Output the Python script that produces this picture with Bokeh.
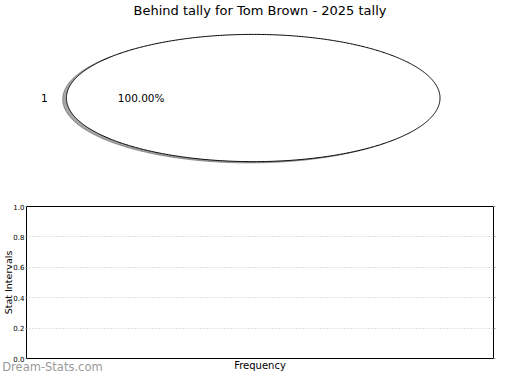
import numpy as np
from bokeh.plotting import figure
from bokeh.models import (Range1d, FixedTicker, LinearAxis,
                          NumeralTickFormatter, ColumnDataSource)
from bokeh.layouts import column
from bokeh.embed import file_html
from bokeh.resources import INLINE
from bokeh.core.properties import value

# ---------------- data ----------------
title_text = "Behind tally for Tom Brown - 2025 tally"
slice_labels = ["1"]
slice_values = [1]
y_ticks = [0.0, 0.2, 0.4, 0.6, 0.8, 1.0]
x_label = "Frequency"
y_label = "Stat Intervals"
watermark = "Dream-Stats.com"

FONT = "DejaVu Sans"
W = 504
H_TOP = 184
H_BOT = 374 - H_TOP
FRAME_L = 25
FRAME_R = 493

# pie geometry on the page (pixels): centre and radii
CX, CY, RX, RY = 252.2, 97.0, 187.2, 64.0
TITLE_H = 16

# ---------------- pie (top) ----------------
top = figure(width=W, height=H_TOP, output_backend="svg", toolbar_location=None,
             tools="",
             x_range=Range1d(-(CX - FRAME_L) / RX, (FRAME_R - CX) / RX),
             y_range=Range1d(-(H_TOP - CY) / RY, (CY - TITLE_H) / RY),
             min_border=0, min_border_left=FRAME_L, min_border_right=W - FRAME_R)
top.axis.visible = False
top.grid.visible = False
top.outline_line_color = None
top.title.text = title_text
top.title.align = "center"
top.title.text_font = FONT
top.title.text_font_size = "13px"
top.title.text_font_style = "normal"
top.title.text_color = "black"
top.title.standoff = 0
top.title.offset = 0

vals = np.array(slice_values, dtype=float)
frac = vals / vals.sum()
ends = 2 * np.pi * np.cumsum(frac)
starts = ends - 2 * np.pi * frac

shapes = []
for a0, a1, f in zip(starts, ends, frac):
    th = np.linspace(a0, a1, 721)
    xs = np.cos(th)
    ys = np.sin(th)
    if f < 1:
        xs = np.concatenate([[0.0], xs])
        ys = np.concatenate([[0.0], ys])
    shapes.append((xs, ys))

SH = 0.02
for xs, ys in shapes:
    top.patch(xs - SH, ys - SH, fill_color="#4d4d4d", fill_alpha=0.5,
              line_color="#4d4d4d", line_alpha=0.5, line_width=1)
for xs, ys in shapes:
    top.patch(xs, ys, fill_color="white", line_color="black", line_width=1)

mids = (starts + ends) / 2
lab_src = ColumnDataSource(dict(
    x=list(1.1 * np.cos(mids)), y=list(1.1 * np.sin(mids)),
    text=slice_labels,
    align=["right" if np.cos(m) < -1e-9 else ("left" if np.cos(m) > 1e-9 else "center") for m in mids],
))
top.text(x="x", y="y", text="text", source=lab_src, text_align="align",
         text_baseline="middle", text_font=value(FONT), text_font_size="10.5px",
         text_color="black")
pct_src = ColumnDataSource(dict(
    x=list(0.6 * np.cos(mids)), y=list(0.6 * np.sin(mids)),
    text=["%.2f%%" % (100 * f) for f in frac],
))
top.text(x="x", y="y", text="text", source=pct_src, text_align="center",
         text_baseline="middle", text_font=value(FONT), text_font_size="10.5px",
         text_color="black")

# ---------------- empty axes (bottom) ----------------
BOX_TOP = 206
BOX_BOTTOM = 358
bot = figure(width=W, height=H_BOT, output_backend="svg", toolbar_location=None,
             tools="", x_range=Range1d(0, 1), y_range=Range1d(0, 1),
             min_border_left=FRAME_L, min_border_right=W - FRAME_R,
             min_border_top=BOX_TOP - H_TOP, min_border_bottom=374 - BOX_BOTTOM)
bot.outline_line_color = "black"
bot.outline_line_width = 1
bot.outline_line_alpha = 1.0

# x axis: the watermark sits in the tick-label row at the far left,
# the axis label "Frequency" is pulled up into the same row
WM_CENTER_PX = 51.0
wm_pos = (WM_CENTER_PX - FRAME_L) / (FRAME_R - FRAME_L)
xa = bot.xaxis[0]
xa.ticker = FixedTicker(ticks=[wm_pos])
xa.major_label_overrides = {wm_pos: watermark}
xa.major_tick_out = 0
xa.major_tick_in = 0
xa.minor_tick_out = 0
xa.minor_tick_in = 0
xa.axis_line_color = None
xa.major_label_standoff = 1
xa.major_label_text_font = FONT
xa.major_label_text_font_size = "11.5px"
xa.major_label_text_color = "#9a9a9a"
xa.axis_label = x_label
xa.axis_label_standoff = -17
xa.axis_label_text_font = FONT
xa.axis_label_text_font_size = "10px"
xa.axis_label_text_font_style = "normal"
xa.axis_label_text_color = "black"

ya = bot.yaxis[0]
ya.ticker = FixedTicker(ticks=y_ticks)
ya.formatter = NumeralTickFormatter(format="0.0")
ya.major_tick_out = 1
ya.major_tick_in = 0
ya.minor_tick_out = 0
ya.minor_tick_in = 0
ya.major_tick_line_color = "#888888"
ya.axis_line_color = None
ya.major_label_standoff = 1
ya.major_label_text_font = FONT
ya.major_label_text_font_size = "7px"
ya.major_label_text_color = "black"
ya.axis_label = y_label
ya.axis_label_standoff = -4
ya.axis_label_text_font = FONT
ya.axis_label_text_font_size = "9.5px"
ya.axis_label_text_font_style = "normal"
ya.axis_label_text_color = "black"

ra = LinearAxis(ticker=FixedTicker(ticks=y_ticks), major_tick_out=2, major_tick_in=0,
                minor_tick_out=0, minor_tick_in=0, major_tick_line_color="#999999",
                axis_line_color=None, major_label_text_color=None,
                major_label_text_font_size="1px", major_label_standoff=0)
bot.add_layout(ra, "right")

bot.xgrid.grid_line_color = None
bot.ygrid.grid_line_color = "#c4c4c4"
bot.ygrid.grid_line_dash = "1 2"
bot.ygrid.grid_line_width = 1

layout = column(top, bot, spacing=0)
open("out.html", "w").write(file_html(layout, INLINE))
